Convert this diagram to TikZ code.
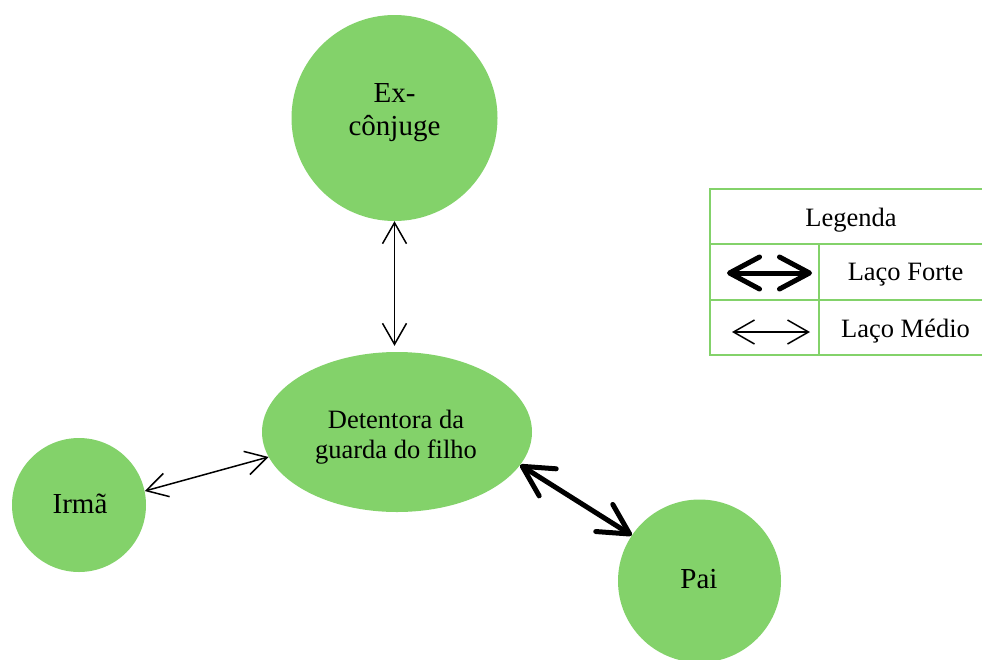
\documentclass[tikz,border=0pt]{standalone}
\usepackage{fontspec}
\setmainfont{Liberation Serif}
\usetikzlibrary{shapes.geometric,arrows.meta,calc}
\definecolor{nodegreen}{RGB}{131,210,106}
\newcommand\fbig{\fontsize{29}{33}\selectfont}
\newcommand\fmed{\fontsize{26.5}{30}\selectfont}
\begin{document}
\begin{tikzpicture}[x=1pt,y=-1pt,
 blob/.style={circle,fill=nodegreen,draw=none,inner sep=0},
 oval/.style={ellipse,fill=nodegreen,draw=none,inner sep=0,minimum width=270pt,minimum height=160pt},
 bigtxt/.style={font=\fbig,align=center,inner sep=0},
 medtxt/.style={font=\fmed,align=center,inner sep=0},
 cell/.style={draw=nodegreen,line width=2pt,rectangle,inner sep=0},
 thinarr/.style={line width=1.5pt,{Straight Barb[length=21pt,width=24pt]}-{Straight Barb[length=21pt,width=24pt]}},
 thickarr/.style={line width=5pt,line cap=round,{Straight Barb[length=30pt,width=32pt,round]}-{Straight Barb[length=30pt,width=32pt,round]}}]
\clip (0,0) rectangle (982,659);
\fill[white] (0,0) rectangle (982,659);
% nodes
\node[blob,minimum size=206pt] (ex) at (394.5,118) {};
\node[bigtxt] (ext) at (394.5,113) {Ex-\\cônjuge};
\node[oval] (det) at (397,432) {};
\node[medtxt] (dett) at (396,437) {Detentora da\\guarda do filho};
\node[blob,minimum size=134pt] (irma) at (79,505) {};
\node[bigtxt,anchor=base] (irmat) at (80,513) {Irmã};
\node[blob,minimum size=163pt] (pai) at (699.5,581) {};
\node[bigtxt,anchor=base] (pait) at (699,588) {Pai};
% legend
\node[cell,minimum width=282pt,minimum height=55pt] (legh) at (851,216.5) {};
\node[cell,minimum width=109pt,minimum height=55.5pt] (lfl) at (764.5,271.75) {};
\node[cell,minimum width=173pt,minimum height=55.5pt] (lfr) at (905.5,271.75) {};
\node[cell,minimum width=109pt,minimum height=55.5pt] (lml) at (764.5,327.25) {};
\node[cell,minimum width=173pt,minimum height=55.5pt] (lmr) at (905.5,327.25) {};
\node[medtxt,anchor=base] (legt) at (851,226) {Legenda};
\node[medtxt,anchor=base] (lft) at (905.5,280) {Laço Forte};
\node[medtxt,anchor=base] (lmt) at (905.5,337) {Laço Médio};
\coordinate (lfa) at (727,273);
\coordinate (lfb) at (812,273);
\coordinate (lma) at (732,332);
\coordinate (lmb) at (810,332);
\draw[thickarr] (lfa) -- (lfb);
\draw[thinarr] (lma) -- (lmb);
% connectors
\draw[thinarr,shorten >=6pt] (ex.south) -- (ex.south |- det.north);
\draw[thinarr] (irma.12) -- (det.191);
\draw[thickarr] (det.-15.6) -- (pai.146);
\end{tikzpicture}
\end{document}
